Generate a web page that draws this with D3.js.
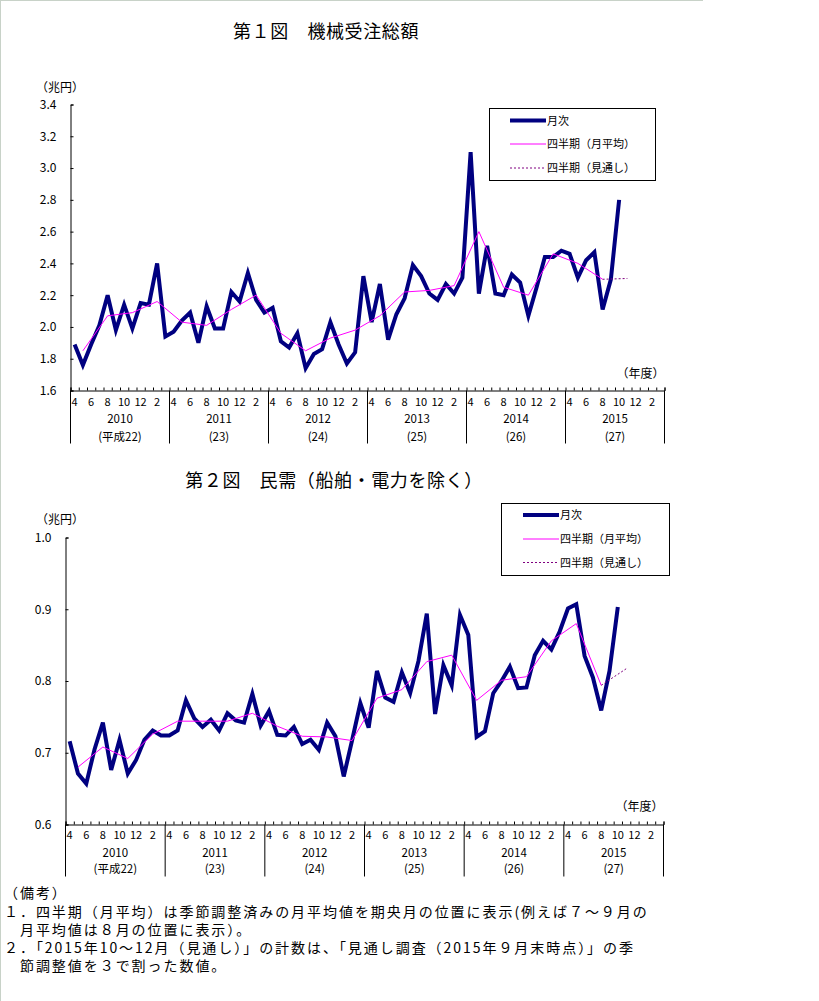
<!DOCTYPE html>
<html><head><meta charset="utf-8">
<script src="https://cdn.jsdelivr.net/npm/d3@7"></script>
<style>
body{margin:0;background:#fff;}
svg{display:block;}
text{font-family:"Noto Sans CJK JP","Noto Sans",sans-serif;fill:#000;}
</style></head><body>
<svg id="c" width="819" height="1001"></svg>
<script>
// ---------- data ----------
const fiscalYears = ["2010","2011","2012","2013","2014","2015"];
const heiseiLabels = ["(平成22)","(23)","(24)","(25)","(26)","(27)"];
const monthLabels = ["4","6","8","10","12","2"];
const legendLabels = ["月次","四半期（月平均）","四半期（見通し）"];

const c1Title = "第１図　機械受注総額";
const c1Ticks = [1.6,1.8,2.0,2.2,2.4,2.6,2.8,3.0,3.2,3.4];
// monthly, Apr 2010 .. Oct 2015 (trillion yen)
const c1Monthly = [
  1.89,1.76,1.89,2.01,2.20,1.98,2.14,1.99,2.15,2.14,2.40,1.94,
  1.97,2.04,2.09,1.90,2.13,1.99,1.99,2.22,2.16,2.34,2.17,2.09,
  2.12,1.91,1.87,1.96,1.74,1.83,1.86,2.03,1.89,1.77,1.84,2.32,
  2.03,2.27,1.92,2.08,2.18,2.39,2.32,2.21,2.17,2.27,2.21,2.31,
  3.10,2.21,2.51,2.21,2.20,2.33,2.28,2.07,2.25,2.44,2.44,2.48,
  2.46,2.31,2.42,2.47,2.11,2.30,2.80
];
// quarterly monthly average, plotted at middle month
const c1Quarterly = [
  1.85,2.07,2.09,2.16,
  2.03,2.01,2.11,2.20,
  1.96,1.85,1.93,1.98,
  2.07,2.22,2.23,2.26,
  2.60,2.25,2.20,2.46,
  2.40,2.30
];
const c1Forecast = [2.30,2.305];

const c2Title = "第２図　民需（船舶・電力を除く）";
const c2Ticks = [0.6,0.7,0.8,0.9,1.0];
const c2Monthly = [
  0.716,0.671,0.657,0.705,0.742,0.676,0.718,0.671,0.690,0.718,0.731,0.724,
  0.724,0.731,0.773,0.748,0.736,0.746,0.731,0.755,0.745,0.742,0.782,0.738,
  0.758,0.725,0.724,0.736,0.712,0.718,0.704,0.742,0.723,0.667,0.717,0.769,
  0.735,0.814,0.777,0.771,0.812,0.783,0.828,0.894,0.754,0.822,0.794,0.892,
  0.864,0.722,0.730,0.783,0.800,0.820,0.790,0.791,0.836,0.856,0.844,0.869,
  0.901,0.907,0.835,0.805,0.759,0.814,0.903
];
const c2Quarterly = [
  0.680,0.708,0.692,0.726,
  0.744,0.744,0.744,0.755,
  0.737,0.723,0.722,0.717,
  0.776,0.788,0.827,0.836,
  0.773,0.801,0.806,0.856,
  0.880,0.794
];
const c2Forecast = [0.794,0.817];

const notes = [
  "（備考）",
  "１．四半期（月平均）は季節調整済みの月平均値を期央月の位置に表示(例えば７～９月の",
  "　月平均値は８月の位置に表示）。",
  "２．「2015年10～12月（見通し）」の計数は、「見通し調査（2015年９月末時点）」の季",
  "　節調整値を３で割った数値。"
];

// ---------- drawing ----------
const svg = d3.select("#c");
const NAVY = "#000080", MAG = "#ff00ff", PURP = "#800080";

// page frame lines
svg.append("line").attr("x1",0).attr("x2",703).attr("y1",0.5).attr("y2",0.5).attr("stroke","#c8d2c8");
svg.append("line").attr("x1",0.5).attr("x2",0.5).attr("y1",0).attr("y2",1001).attr("stroke","#c8d2c8");

function drawChart(o){
  const g = svg.append("g");
  const nMonths = fiscalYears.length*12;
  const x = d3.scaleLinear().domain([0,nMonths]).range([o.x0,o.x1]);
  const y = d3.scaleLinear().domain(o.yDomain).range([o.yB,o.yT]);
  const mx = i => x(i+0.5);

  // title
  g.append("text").attr("x",o.titleX).attr("y",o.titleY).attr("text-anchor","middle")
    .style("font-size","18px").style("letter-spacing","0.6px").text(o.title);
  // unit
  g.append("text").attr("x",o.unitX).attr("y",o.unitY).style("font-size","12px").text("（兆円）");

  // y axis
  const ya = d3.axisLeft(y).tickValues(o.ticks).tickFormat(d3.format(".1f"))
    .tickSize(-3).tickPadding(14);
  const yg = g.append("g").attr("transform",`translate(${o.x0},0)`).call(ya);
  yg.select(".domain").attr("stroke","#000");
  yg.selectAll(".tick line").attr("stroke","#000");
  yg.selectAll(".tick text").style("font-size","12px").attr("font-family",null);

  // x axis (month ticks, upward)
  const xa = d3.axisBottom(x).tickValues(d3.range(0,nMonths+1)).tickSize(-3).tickFormat("");
  const xg = g.append("g").attr("transform",`translate(0,${o.yB})`).call(xa);
  xg.select(".domain").attr("stroke","#000");
  xg.selectAll(".tick line").attr("stroke","#000");

  // year separators
  g.selectAll(".sep").data(d3.range(0,fiscalYears.length+1)).join("line")
    .attr("x1",d=>x(d*12)).attr("x2",d=>x(d*12))
    .attr("y1",o.yB).attr("y2",o.yB+o.sepLen).attr("stroke","#000");

  // month labels
  fiscalYears.forEach((fy,k)=>{
    monthLabels.forEach((m,j)=>{
      g.append("text").attr("x",mx(k*12+j*2)).attr("y",o.yB+o.mOff)
        .attr("text-anchor","middle").style("font-size","11px").text(m);
    });
    const cx = x(k*12+6);
    g.append("text").attr("x",cx).attr("y",o.yB+o.yrOff).attr("text-anchor","middle")
      .style("font-size","11.5px").text(fy);
    g.append("text").attr("x",cx).attr("y",o.yB+o.hsOff).attr("text-anchor","middle")
      .style("font-size","11.5px").text(heiseiLabels[k]);
  });

  // (年度)
  g.append("text").attr("x",o.x1).attr("y",o.nendoY).attr("text-anchor","end")
    .style("font-size","12px").text("（年度）");

  // lines
  const line = d3.line().x(d=>mx(d[0])).y(d=>y(d[1]));
  g.append("path").datum(o.monthly.map((v,i)=>[i,v])).attr("d",line)
    .attr("fill","none").attr("stroke",NAVY).attr("stroke-width",4).attr("stroke-linejoin","miter");
  g.append("path").datum(o.quarterly.map((v,i)=>[1+3*i,v])).attr("d",line)
    .attr("fill","none").attr("stroke",MAG).attr("stroke-width",1);
  const fStart = 1+3*(o.quarterly.length-1);
  g.append("path").datum(o.forecast.map((v,i)=>[fStart+3*i,v])).attr("d",line)
    .attr("fill","none").attr("stroke",PURP).attr("stroke-width",1).attr("stroke-dasharray","2,2");

  // legend
  const L = o.legend;
  g.append("rect").attr("x",L.x+0.5).attr("y",L.y+0.5).attr("width",L.w).attr("height",L.h)
    .attr("fill","#fff").attr("stroke","#000");
  const styles = [
    {stroke:NAVY,w:4,dash:null},
    {stroke:MAG,w:1,dash:null},
    {stroke:PURP,w:1,dash:"2,2"}
  ];
  legendLabels.forEach((lab,i)=>{
    const ly = L.y + L.rows[i];
    g.append("line").attr("x1",L.lx1).attr("x2",L.lx2).attr("y1",ly).attr("y2",ly)
      .attr("stroke",styles[i].stroke).attr("stroke-width",styles[i].w)
      .attr("stroke-dasharray",styles[i].dash);
    g.append("text").attr("x",L.lx2+1).attr("y",ly+4).style("font-size","11px").text(lab);
  });
}

drawChart({
  title:c1Title, titleX:326, titleY:38,
  unitX:36, unitY:92,
  x0:70.5, x1:664.5, yB:390.5, yT:104.5, yDomain:[1.6,3.4], ticks:c1Ticks,
  sepLen:53, mOff:15, yrOff:32, hsOff:50, nendoY:378,
  monthly:c1Monthly, quarterly:c1Quarterly, forecast:c1Forecast,
  legend:{x:489,y:108,w:166,h:72,rows:[12.5,36,60],lx1:510,lx2:546}
});

drawChart({
  title:c2Title, titleX:334, titleY:487,
  unitX:36, unitY:524,
  x0:65.5, x1:663.5, yB:824.5, yT:537.5, yDomain:[0.6,1.0], ticks:c2Ticks,
  sepLen:52, mOff:14, yrOff:32, hsOff:48, nendoY:811,
  monthly:c2Monthly, quarterly:c2Quarterly, forecast:c2Forecast,
  legend:{x:501,y:503,w:168,h:72,rows:[12,36,59.5],lx1:523,lx2:559}
});

// notes
svg.append("g").selectAll("text").data(notes).join("text")
  .attr("x",4).attr("y",(d,i)=>898+ i*18 + (i>0?1:0))
  .style("font-size","14px").style("letter-spacing","1.95px").text(d=>d);
</script>
</body></html>
